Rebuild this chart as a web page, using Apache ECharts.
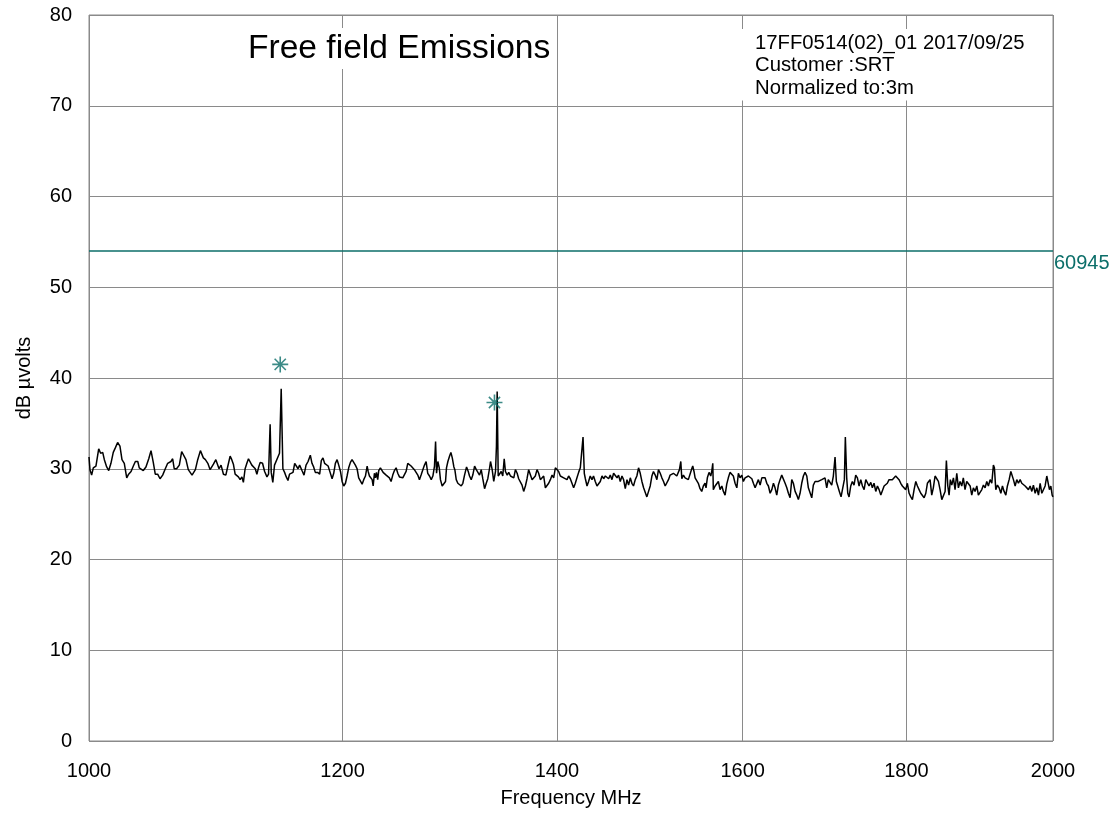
<!DOCTYPE html>
<html>
<head>
<meta charset="utf-8">
<script src="https://cdn.jsdelivr.net/npm/echarts@6/dist/echarts.min.js"></script>
<style>
  html, body { margin: 0; padding: 0; background: #fff; }
  #chart { width: 1120px; height: 814px; }
</style>
</head>
<body>
<div id="chart"></div>
<script>
// ---- data ----
const titleText = 'Free field Emissions';
const noteLines = ['17FF0514(02)_01 2017/09/25', 'Customer :SRT', 'Normalized to:3m'];
const xAxisName = 'Frequency MHz';
const yAxisName = 'dB µvolts';
const xTicks = [1000, 1200, 1400, 1600, 1800, 2000];
const limitName = '60945';
const limitLevel = 54;
const markerFreq = [1147.4, 1338.5];
const markerLevel = [41.5, 37.3];

const freqMHz = [
1000.0,1000.7,1001.9,1003.1,1005.0,1007.0,1008.4,1009.9,1011.1,1012.8,1014.3,1015.9,1017.6,1019.1,1020.8,1022.5,1024.0,1025.7,1027.5,1028.9,
1030.7,1032.4,1033.9,1035.7,1036.8,1038.1,1039.8,1041.8,1043.9,1045.6,1047.3,1048.8,1050.6,1052.4,1054.4,1056.4,1058.2,1060.7,1062.0,1063.2,
1065.0,1067.1,1068.9,1070.4,1072.2,1074.0,1075.3,1076.9,1077.9,1079.5,1081.3,1083.4,1085.7,1087.3,1089.2,1091.0,
1093.6,1095.5,1097.0,1098.0,1099.6,1101.5,1103.4,1105.0,1106.8,1108.1,1109.4,1110.8,1112.1,1113.4,1114.8,1116.2,1117.4,1118.8,1120.2,1121.5,
1122.8,1124.2,1125.6,1127.0,1128.3,1129.6,1131.0,1132.9,1134.6,1136.5,1137.8,1139.1,1140.0,1141.3,1142.7,1144.1,1145.5,1146.8,1148.2,1149.6,
1151.0,1152.4,1153.8,1155.1,1156.6,1158.0,1159.4,1160.8,1162.2,1163.5,1165.5,1167.2,1168.9,1170.6,1172.5,1173.9,1175.3,1176.7,1178.7,1180.4,
1181.8,1183.2,1184.6,1186.1,1187.6,1189.3,
1191.0,1192.4,1193.8,1195.3,1196.7,1198.2,1199.6,1201.0,1202.5,1203.9,1205.3,1206.8,1208.2,1209.6,1211.1,1212.6,1214.0,1215.5,1217.0,1218.4,
1219.9,1221.4,1222.3,1223.4,1224.3,1225.8,1226.7,1227.8,1228.7,1229.6,1230.7,1231.6,1233.1,1234.6,1235.5,1236.6,1238.2,1239.6,1241.1,1242.6,
1244.1,1245.6,1247.1,1248.6,1250.1,1251.6,1253.1,1254.6,1256.1,1257.6,1259.1,1260.6,1262.1,1263.6,1265.2,1266.7,1268.2,1269.7,1271.3,1272.8,
1274.3,1275.8,1277.4,1279.0,1280.5,1282.0,1283.0,1283.9,1285.1,1286.4,1287.5,1289.1,1290.6,1292.2,1293.1,1294.4,1296.0,
1297.2,1298.5,1300.0,1300.9,1302.2,1303.7,1305.3,1306.9,1308.4,1310.0,1311.9,1313.5,1314.7,1316.3,1317.8,1319.5,1321.1,1322.6,1324.2,1325.8,
1327.3,1329.0,1330.6,1332.1,1333.7,1334.7,1336.3,1337.8,1339.5,1340.4,1341.1,1342.1,1343.3,1345.0,1346.5,1347.9,1349.1,1350.8,1352.3,1354.0,
1355.6,1357.2,1358.8,1360.5,1362.0,1363.7,1365.3,1366.9,1368.6,1370.2,1371.8,1373.5,1375.2,1376.8,1378.4,1380.1,1381.7,1383.4,1385.1,1386.7,
1388.4,1390.1,1391.7,1393.4,1395.1,1396.7,1398.4,1400.1,1401.7,1403.4,1405.1,1406.8,1408.5,1410.2,1411.8,
1413.5,1415.2,1416.9,1418.6,1420.3,1422.0,1423.7,1425.5,1426.5,1427.8,1428.9,1430.6,1432.2,1433.9,1435.7,1437.3,1439.1,1440.9,1442.6,1444.3,
1446.1,1447.8,1449.6,1451.3,1453.0,1454.7,1456.5,1458.2,1460.0,1461.8,1463.4,1465.2,1467.0,1468.7,1470.5,1472.3,1474.0,1475.8,1477.5,1479.2,
1481.1,1482.8,1484.6,1486.4,1488.2,1490.0,1491.7,1493.5,1495.3,1497.1,1498.9,1500.6,1502.5,1504.3,1506.0,1507.9,1509.7,1511.5,1513.3,1515.1,
1516.9,1518.7,1520.6,1522.3,1524.2,1526.0,1527.8,1528.9,1530.4,1531.5,1533.3,1535.1,1537.0,1538.7,
1540.6,1542.5,1543.6,1545.0,1546.2,1548.0,1549.8,1551.7,1553.6,1555.4,1557.3,1558.4,1559.9,1561.8,1563.7,1564.8,1566.0,1566.6,1568.6,1570.5,
1572.3,1574.2,1576.2,1578.0,1579.9,1581.8,1583.6,1585.5,1587.5,1589.3,1591.3,1593.3,1595.1,1597.0,1599.0,1600.8,1602.8,1604.8,1606.6,1608.6,
1610.6,1612.4,1614.4,1616.4,1618.2,1620.2,1622.2,1624.0,1626.0,1628.0,1629.9,1631.9,1633.9,1635.8,1637.7,1639.7,1641.6,1643.6,1645.6,1647.5,
1649.6,1651.6,1653.5,1655.5,1657.5,1659.4,1661.5,1663.5,1665.4,1667.4,1669.4,1671.4,1673.4,1675.5,1677.4,
1679.4,1681.5,1683.4,1685.5,1687.5,1689.4,1691.5,1693.6,1695.5,1697.6,1699.7,1701.6,1703.7,1705.8,1707.8,1709.9,1711.5,1713.2,1715.2,1717.3,
1719.4,1721.4,1722.6,1724.3,1725.6,1727.2,1729.3,1731.3,1733.4,1735.5,1737.6,1739.7,1741.8,1743.9,1746.0,1748.1,1750.1,1752.2,1754.4,1756.4,
1758.5,1760.7,1762.8,1764.9,1767.1,1769.1,1771.3,1773.4,1775.4,1777.6,1779.8,1781.8,1784.0,1786.1,1788.2,1790.4,1792.6,1794.7,1796.8,1799.0,
1801.2,1803.4,1805.6,1807.7,1809.9,1812.1,1814.2,1816.4,1818.6,1820.7,1823.0,1825.2,1827.3,1829.5,
1830.8,1833.0,1835.1,1837.4,1839.7,1841.8,1844.0,1846.3,1848.4,1850.7,1852.4,1854.3,1856.0,1857.7,1859.6,1861.8,1864.0,1866.3,1868.5,1870.7,
1873.0,1875.1,1877.4,1879.7,1881.9,1884.3,1886.5,1888.7,1891.0,1893.4,1895.5,1897.9,1900.2,1902.4,1904.7,1907.0,1909.2,1911.6,1913.9,1916.1,
1917.5,1919.4,1921.7,1924.0,1926.4,1928.6,1930.9,1933.3,1935.5,1937.9,1940.3,1941.6,1943.9,1946.3,1948.6,1950.9,1953.3,1955.6,1957.9,1960.3,
1962.6,1965.0,1967.4,1969.8,1972.0,1974.5,1976.9,1979.2,1981.6,1984.0,1986.3,1988.7,1991.1,1993.5,1994.9,1996.9,1998.8,2000.0
];

const levelDb = [
31.3,29.9,29.3,30.1,30.3,32.2,31.7,31.8,31.0,30.2,29.8,30.6,31.8,32.3,32.9,32.5,31.0,30.6,29.0,29.4,
29.7,30.3,30.8,30.8,30.1,30.2,29.8,30.2,31.1,32.0,30.7,29.4,29.4,28.9,29.3,30.0,30.6,30.8,31.1,30.0,
30.0,30.4,31.9,31.8,31.0,29.9,29.9,29.3,29.2,29.9,31.0,32.0,31.2,31.0,30.6,29.9,
30.5,31.0,30.8,30.0,30.4,29.4,29.3,30.3,31.4,31.0,30.5,29.4,29.5,29.1,28.8,29.1,28.5,30.0,30.6,31.1,
30.9,30.4,30.6,30.0,29.4,30.1,30.7,30.6,29.7,29.1,29.4,34.9,29.6,28.5,30.4,30.2,31.3,31.7,38.8,30.0,
29.6,29.1,28.7,29.4,29.2,29.6,30.6,30.7,30.0,30.4,29.8,29.3,30.4,30.8,31.5,30.6,30.2,29.6,29.6,29.4,
30.9,31.2,30.6,30.8,30.3,29.6,
28.9,29.5,30.6,31.0,30.4,29.7,28.6,28.1,28.4,29.2,30.1,30.7,31.0,31.1,30.4,30.0,29.0,28.8,28.3,28.8,
29.2,30.3,29.7,29.2,29.4,28.8,28.1,29.5,29.0,29.6,28.8,29.8,30.1,30.3,29.6,29.8,29.3,29.2,29.0,28.6,
29.3,29.8,30.1,29.5,29.1,29.3,29.0,28.8,29.7,30.6,30.8,30.3,30.1,29.9,29.7,29.3,28.8,29.3,29.9,30.4,
30.8,29.5,29.2,28.8,29.2,30.3,33.0,29.5,30.8,30.1,28.8,28.1,28.1,28.6,30.1,30.8,31.4,
31.8,31.2,30.2,29.9,28.8,28.4,28.6,28.1,28.4,29.3,30.2,29.7,29.2,28.8,29.3,30.3,29.9,29.8,29.3,29.9,
28.9,27.8,28.4,28.9,30.0,30.8,29.9,28.6,29.7,32.5,38.5,29.2,29.0,29.7,29.2,31.1,29.7,29.3,29.6,29.2,
29.3,29.0,29.9,29.5,28.9,28.8,28.2,27.5,28.1,28.9,29.9,29.7,28.8,28.6,29.2,29.9,29.5,28.8,29.0,29.2,
27.9,27.7,28.4,28.8,29.3,29.0,30.1,30.2,29.7,29.2,29.3,29.0,29.2,28.8,29.2,
28.9,29.1,27.9,28.4,29.0,29.6,30.1,29.9,33.5,29.5,28.9,28.1,28.6,29.2,28.8,29.2,28.6,28.1,28.1,28.6,
29.2,28.9,29.2,29.2,28.9,29.3,28.8,29.5,29.4,29.0,29.3,28.6,29.2,28.8,27.8,28.8,28.2,29.0,28.4,28.1,
28.8,29.2,30.1,29.5,28.6,27.9,27.7,26.9,26.8,28.1,29.2,29.7,29.3,28.8,29.9,29.5,29.0,28.6,28.1,27.9,
28.8,29.3,29.2,29.5,29.7,29.2,29.3,29.9,30.8,28.9,29.3,29.0,29.2,28.8,
29.0,30.0,30.3,29.7,29.0,29.2,28.4,27.8,27.5,28.1,28.4,27.9,29.0,29.6,29.2,29.7,30.6,27.7,28.1,27.9,
28.6,27.7,28.1,27.5,27.1,28.3,29.0,29.6,29.8,29.2,28.4,27.9,29.5,29.0,29.3,28.6,29.0,28.8,29.2,29.2,
28.9,28.4,27.9,28.1,28.8,28.2,29.0,28.8,29.0,28.4,28.1,27.3,27.7,28.4,27.9,27.1,28.2,28.8,29.3,29.2,
28.4,27.9,27.3,26.8,28.8,28.4,27.5,27.1,26.6,27.3,28.4,29.2,29.6,29.2,27.9,
27.7,26.8,28.2,28.6,28.4,28.6,28.4,28.8,28.6,29.0,27.9,28.8,29.0,28.2,29.2,31.3,28.6,28.1,27.5,26.9,
26.8,28.8,33.5,29.0,27.3,26.9,28.1,28.6,28.2,29.3,29.0,28.1,28.8,28.1,27.7,28.8,29.0,28.1,28.5,27.9,
28.4,27.5,28.1,27.7,27.1,26.9,28.1,27.9,28.4,28.8,28.6,28.8,28.6,29.2,29.3,28.8,28.4,28.1,28.2,27.7,
28.4,27.3,26.9,26.6,27.7,28.6,28.1,27.7,27.3,27.1,26.8,27.3,28.4,28.6,
28.8,27.1,27.9,29.2,29.3,28.6,27.7,26.6,26.8,27.5,30.9,28.1,27.1,28.8,28.2,29.0,27.7,29.5,27.9,28.6,
28.1,29.0,27.7,28.6,28.8,28.1,27.1,27.9,27.5,28.1,27.1,26.9,27.7,28.2,27.9,28.6,28.1,28.8,28.4,30.4,
30.1,27.7,28.2,27.9,27.3,28.1,27.5,27.1,28.1,28.8,29.7,29.9,28.8,28.1,28.8,28.4,28.8,28.4,28.2,28.1,
27.9,27.7,28.1,27.5,28.2,27.3,27.9,27.1,28.4,27.3,27.1,28.1,29.2,29.3,27.7,28.1,27.1,26.9
];

// ---- chart ----
const FONT = '"Liberation Sans", Arial, sans-serif';
const TEAL = '#0b6e69';
const GRIDC = '#8a8a8a';

const traceData = freqMHz.map((f, i) => [f, levelDb[i]]);
const markerData = markerFreq.map((f, i) => [f, markerLevel[i]]);

const chart = echarts.init(document.getElementById('chart'), null, { renderer: 'canvas' });
chart.setOption({
  animation: false,
  backgroundColor: '#ffffff',
  title: [
    {
      text: titleText,
      left: 246, top: 28,
      padding: [2, 2, 2, 2],
      backgroundColor: '#ffffff',
      textStyle: { fontFamily: FONT, fontSize: 33.6, fontWeight: 'normal', color: '#000', lineHeight: 37 }
    },
    {
      text: noteLines.join('\n'),
      left: 740, top: 29,
      padding: [3, 10, 1, 15],
      backgroundColor: '#ffffff',
      textStyle: { fontFamily: FONT, fontSize: 20.3, fontWeight: 'normal', color: '#000', lineHeight: 22.5 }
    }
  ],
  grid: {
    left: 89, right: 67, top: 15, bottom: 73,
    show: true, borderColor: GRIDC, borderWidth: 1,
    outerBoundsMode: 'none'
  },
  xAxis: {
    type: 'log', logBase: 10, min: 1000, max: 2000,
    name: xAxisName, nameLocation: 'middle', nameGap: 47,
    nameTextStyle: { fontFamily: FONT, fontSize: 20, color: '#000' },
    axisLine: { show: false },
    axisTick: { show: false, customValues: xTicks },
    axisLabel: {
      customValues: xTicks, margin: 20, fontFamily: FONT, fontSize: 20, color: '#000',
      formatter: v => String(Math.round(v))
    },
    splitLine: { show: true, lineStyle: { color: GRIDC, width: 1 } },
    minorTick: { show: false }, minorSplitLine: { show: false }
  },
  yAxis: {
    type: 'value', min: 0, max: 80, interval: 10,
    name: yAxisName, nameLocation: 'middle', nameGap: 55,
    nameTextStyle: { fontFamily: FONT, fontSize: 20, color: '#000' },
    axisLine: { show: false },
    axisTick: { show: false },
    axisLabel: { margin: 17, fontFamily: FONT, fontSize: 20, color: '#000' },
    splitLine: { show: true, lineStyle: { color: GRIDC, width: 1 } }
  },
  series: [
    {
      type: 'line',
      data: traceData,
      showSymbol: false,
      symbol: 'none',
      lineStyle: { color: '#000', width: 1.5 },
      z: 3,
      silent: true,
      markLine: {
        silent: true,
        symbol: ['none', 'none'],
        data: [{ yAxis: limitLevel }],
        lineStyle: { color: TEAL, width: 1.5, type: 'solid' },
        label: {
          show: true, formatter: limitName, position: 'end', distance: 1,
          verticalAlign: 'top', lineHeight: 26,
          fontFamily: FONT, fontSize: 20, color: TEAL
        }
      }
    },
    {
      type: 'scatter',
      data: markerData,
      symbol: 'path://M10,0 L10,20 M0,10 L20,10 M3,3 L17,17 M17,3 L3,17',
      symbolSize: 16,
      itemStyle: { color: 'rgba(0,0,0,0)', borderColor: TEAL, borderWidth: 1.6 },
      z: 4,
      silent: true
    }
  ]
});
</script>
</body>
</html>
